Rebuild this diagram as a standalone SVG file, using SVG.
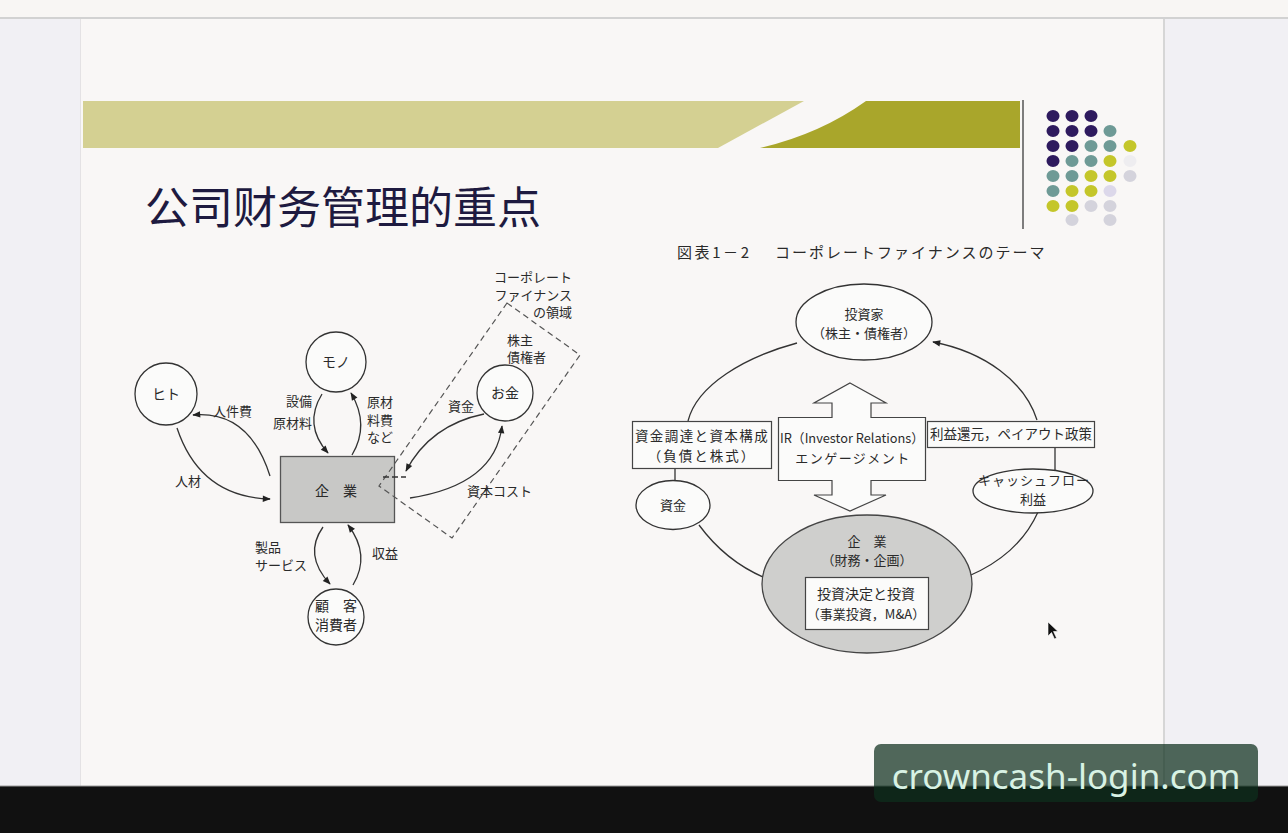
<svg xmlns="http://www.w3.org/2000/svg" width="1288" height="833" viewBox="0 0 1288 833">
<style>
.jp{font-family:"Noto Sans CJK JP","Noto Sans CJK SC",sans-serif;fill:#2a2a2a;}
.l13{font-size:13px;}
.l14{font-size:14px;}
.ln{fill:none;stroke:#333;stroke-width:1.3;}
.nd{fill:#fbfbfa;stroke:#333;stroke-width:1.3;}
.bx{fill:#fbfbfa;stroke:#444;stroke-width:1.2;}
.m{text-anchor:middle;}
.e{text-anchor:end;}
</style>
<defs>
<marker id="ah" viewBox="0 0 10 10" refX="9" refY="5" markerWidth="9" markerHeight="8" orient="auto" markerUnits="userSpaceOnUse">
<path d="M0,1 L10,5 L0,9 z" fill="#222"/>
</marker>
</defs>

<g id="background">
<rect x="0" y="0" width="1288" height="833" fill="#f1f0f4"/>
<rect x="0" y="0" width="1288" height="18" fill="#f8f6f4"/>
<rect x="0" y="17" width="1288" height="2" fill="#d2d2d2"/>
<rect x="81" y="19" width="1082" height="767" fill="#f9f7f6"/>
<line x1="80.5" y1="19" x2="80.5" y2="786" stroke="#e4e2e4" stroke-width="1"/>
<line x1="1164" y1="19" x2="1164" y2="786" stroke="#d6d6d6" stroke-width="2"/>
<rect x="0" y="786" width="1288" height="47" fill="#111111"/>
<line x1="0" y1="786" x2="1288" y2="786" stroke="#9a9a9a" stroke-width="1"/>
</g>

<g id="banner">
<polygon points="83,101 804,101 718,148 83,148" fill="#d4d092"/>
<path d="M866,101 L1020,101 L1020,148 L760,148 Q820,134 866,101 Z" fill="#a9a62b"/>
<line x1="1023" y1="100" x2="1023" y2="229" stroke="#555" stroke-width="1.5"/>
</g>

<g id="dots">
<g fill="#2e1a5e">
<ellipse cx="1053" cy="116" rx="6.5" ry="6"/><ellipse cx="1072" cy="116" rx="6.5" ry="6"/><ellipse cx="1091" cy="116" rx="6.5" ry="6"/>
<ellipse cx="1053" cy="131" rx="6.5" ry="6"/><ellipse cx="1072" cy="131" rx="6.5" ry="6"/><ellipse cx="1091" cy="131" rx="6.5" ry="6"/>
<ellipse cx="1053" cy="146" rx="6.5" ry="6"/><ellipse cx="1072" cy="146" rx="6.5" ry="6"/>
<ellipse cx="1053" cy="161" rx="6.5" ry="6"/>
</g>
<g fill="#6e9a96">
<ellipse cx="1110" cy="131" rx="6.5" ry="6"/>
<ellipse cx="1091" cy="146" rx="6.5" ry="6"/><ellipse cx="1110" cy="146" rx="6.5" ry="6"/>
<ellipse cx="1072" cy="161" rx="6.5" ry="6"/><ellipse cx="1091" cy="161" rx="6.5" ry="6"/>
<ellipse cx="1053" cy="176" rx="6.5" ry="6"/><ellipse cx="1072" cy="176" rx="6.5" ry="6"/>
<ellipse cx="1053" cy="191" rx="6.5" ry="6"/>
</g>
<g fill="#c4c62a">
<ellipse cx="1130" cy="146" rx="6.5" ry="6"/>
<ellipse cx="1110" cy="161" rx="6.5" ry="6"/>
<ellipse cx="1091" cy="176" rx="6.5" ry="6"/><ellipse cx="1110" cy="176" rx="6.5" ry="6"/>
<ellipse cx="1072" cy="191" rx="6.5" ry="6"/><ellipse cx="1091" cy="191" rx="6.5" ry="6"/>
<ellipse cx="1053" cy="206" rx="6.5" ry="6"/><ellipse cx="1072" cy="206" rx="6.5" ry="6"/>
</g>
<g fill="#d4d3dc">
<ellipse cx="1130" cy="161" rx="6.5" ry="6" fill="#eeedf0"/>
<ellipse cx="1130" cy="176" rx="6.5" ry="6"/>
<ellipse cx="1110" cy="191" rx="6.5" ry="6" fill="#dcd8ea"/>
<ellipse cx="1091" cy="206" rx="6.5" ry="6"/><ellipse cx="1110" cy="206" rx="6.5" ry="6"/>
<ellipse cx="1072" cy="220" rx="6.5" ry="6"/><ellipse cx="1110" cy="220" rx="6.5" ry="6"/>
</g>
</g>

<g id="title">
<text x="145" y="224" font-family="'Noto Sans CJK SC','Noto Sans CJK JP',sans-serif" font-size="44" fill="#1e1a40">公司财务管理的重点</text>
</g>

<!-- LEFT DIAGRAM -->
<g id="left-connectors">
<path class="ln" d="M270,476 Q249,410 193,415" marker-end="url(#ah)"/>
<path class="ln" d="M177,428 Q200,497 270,499" marker-end="url(#ah)"/>
<path class="ln" d="M322,394 Q303,425 328,453" marker-end="url(#ah)"/>
<path class="ln" d="M352,455 Q370,425 351,393" marker-end="url(#ah)"/>
<path class="ln" d="M484,414 Q430,425 406,471" marker-end="url(#ah)"/>
<path class="ln" d="M410,498 Q495,485 502,426" marker-end="url(#ah)"/>
<path class="ln" d="M323,527 Q303,555 330,584" marker-end="url(#ah)"/>
<path class="ln" d="M353,585 Q371,555 348,525" marker-end="url(#ah)"/>
</g>

<g id="node-kigyo">
<rect x="280.5" y="456.5" width="114" height="66" fill="#c8c8c6" stroke="#555" stroke-width="1.3"/>
<text class="jp l14 m" x="336" y="496">企　業</text>
</g>

<g id="cf-area">
<polygon points="507,303 580,355 452,538 379,486" fill="none" stroke="#555" stroke-width="1.2" stroke-dasharray="6,4"/>
<line x1="383" y1="477" x2="406" y2="477" stroke="#333" stroke-width="1.5" stroke-dasharray="6,3"/>
<text class="jp l13 e" x="572" y="282">コーポレート</text>
<text class="jp l13 e" x="572" y="300">ファイナンス</text>
<text class="jp l13 e" x="572" y="317">の領域</text>
</g>

<g id="node-hito">
<circle class="nd" cx="166" cy="394" r="31"/>
<text class="jp l14 m" x="166" y="399">ヒト</text>
</g>
<g id="node-mono">
<circle class="nd" cx="336" cy="362" r="30"/>
<text class="jp l14 m" x="336" y="367">モノ</text>
</g>
<g id="node-okane">
<circle class="nd" cx="505" cy="393" r="28"/>
<text class="jp l14 m" x="505" y="398">お金</text>
</g>
<g id="node-kokyaku">
<circle class="nd" cx="336" cy="617" r="28"/>
<text class="jp l14 m" x="336" y="611">顧　客</text>
<text class="jp l14 m" x="336" y="630">消費者</text>
</g>

<g id="left-labels">
<text class="jp l13" x="507" y="345">株主</text>
<text class="jp l13" x="507" y="362">債権者</text>
<text class="jp l13 e" x="312" y="406">設備</text>
<text class="jp l13 e" x="312" y="428">原材料</text>
<text class="jp l13" x="367" y="407">原材</text>
<text class="jp l13" x="367" y="425">料費</text>
<text class="jp l13" x="367" y="442">など</text>
<text class="jp l13" x="213" y="416">人件費</text>
<text class="jp l13" x="175" y="486">人材</text>
<text class="jp l13" x="448" y="411">資金</text>
<text class="jp l13" x="467" y="496">資本コスト</text>
<text class="jp l13" x="255" y="552">製品</text>
<text class="jp l13" x="255" y="570">サービス</text>
<text class="jp l13" x="372" y="558">収益</text>
</g>

<!-- RIGHT DIAGRAM -->
<g id="fig-title">
<text class="jp" x="677" y="258" font-size="15" textLength="72" lengthAdjust="spacing">図表1－2</text>
<text class="jp" x="775" y="258" font-size="15" letter-spacing="2">コーポレートファイナンスのテーマ</text>
</g>

<g id="right-connectors">
<path class="ln" d="M797,343 C745,357 697,385 688,421"/>
<line class="ln" x1="675" y1="469" x2="675" y2="481"/>
<path class="ln" d="M699,525 Q738,578 804,589" marker-end="url(#ah)"/>
<path class="ln" d="M928,589 Q1012,570 1038,512"/>
<line class="ln" x1="1055" y1="447" x2="1055" y2="470"/>
<path class="ln" d="M1037,420 C1025,382 985,352 933,342" marker-end="url(#ah)"/>
</g>

<g id="node-toshika">
<ellipse class="nd" cx="864" cy="322" rx="68" ry="38"/>
<text class="jp l13 m" x="864" y="319">投資家</text>
<text class="jp l13 m" x="864" y="338">（株主・債権者）</text>
</g>

<g id="node-chotatsu">
<rect class="bx" x="632.5" y="421.5" width="139" height="47"/>
<text class="jp m" x="702" y="441" font-size="13.5" letter-spacing="1.4">資金調達と資本構成</text>
<text class="jp m" x="702" y="461" font-size="13.5" letter-spacing="2">（負債と株式）</text>
</g>

<g id="node-shikin">
<ellipse class="nd" cx="673" cy="505" rx="37" ry="24.5"/>
<text class="jp l13 m" x="673" y="510">資金</text>
</g>

<g id="node-ir">
<polygon points="850,383 886,403 871,403 871,417.5 925.5,417.5 925.5,480.5 871,480.5 871,495 886,495 850,511 814,495 832,495 832,480.5 778.5,480.5 778.5,417.5 832,417.5 832,403 814,403" fill="#fbfbfa" stroke="#444" stroke-width="1.2"/>
<text class="jp l13 m" x="852" y="443" textLength="144" lengthAdjust="spacingAndGlyphs">IR（Investor Relations）</text>
<text class="jp l13 m" x="853" y="463" letter-spacing="1.5">エンゲージメント</text>
</g>

<g id="node-kangen">
<rect class="bx" x="927.5" y="421.5" width="167" height="26"/>
<text class="jp m" x="1011" y="439" font-size="13.5">利益還元，ペイアウト政策</text>
</g>

<g id="node-cashflow">
<ellipse class="nd" cx="1033" cy="491" rx="60" ry="22"/>
<text class="jp l13 m" x="1034" y="485" letter-spacing="1">キャッシュフロー</text>
<text class="jp l13 m" x="1033" y="504">利益</text>
</g>

<g id="node-kigyo2">
<ellipse cx="867" cy="584" rx="105" ry="69" fill="#cfcfcd" stroke="#444" stroke-width="1.3"/>
<text class="jp l13 m" x="867" y="546">企　業</text>
<text class="jp l13 m" x="867" y="565">（財務・企画）</text>
</g>

<g id="node-toshikettei">
<rect class="bx" x="805.5" y="577.5" width="123" height="52"/>
<text class="jp l14 m" x="866" y="599">投資決定と投資</text>
<text class="jp l13 m" x="866" y="619">（事業投資，M&amp;A）</text>
</g>

<g id="cursor">
<path d="M1048,622 L1048,636 L1051.5,632.5 L1054.5,639 L1056.5,638 L1053.5,631.5 L1058,631.5 Z" fill="#111" stroke="#fff" stroke-width="0.6"/>
</g>

<g id="watermark">
<rect x="874" y="744" width="384" height="58" rx="7" fill="#0e2f1d" fill-opacity="0.72"/>
<text x="1066" y="789" font-family="'Noto Sans','Open Sans',sans-serif" font-size="35" fill="#d8f2e4" text-anchor="middle">crowncash-login.com</text>
</g>
</svg>
